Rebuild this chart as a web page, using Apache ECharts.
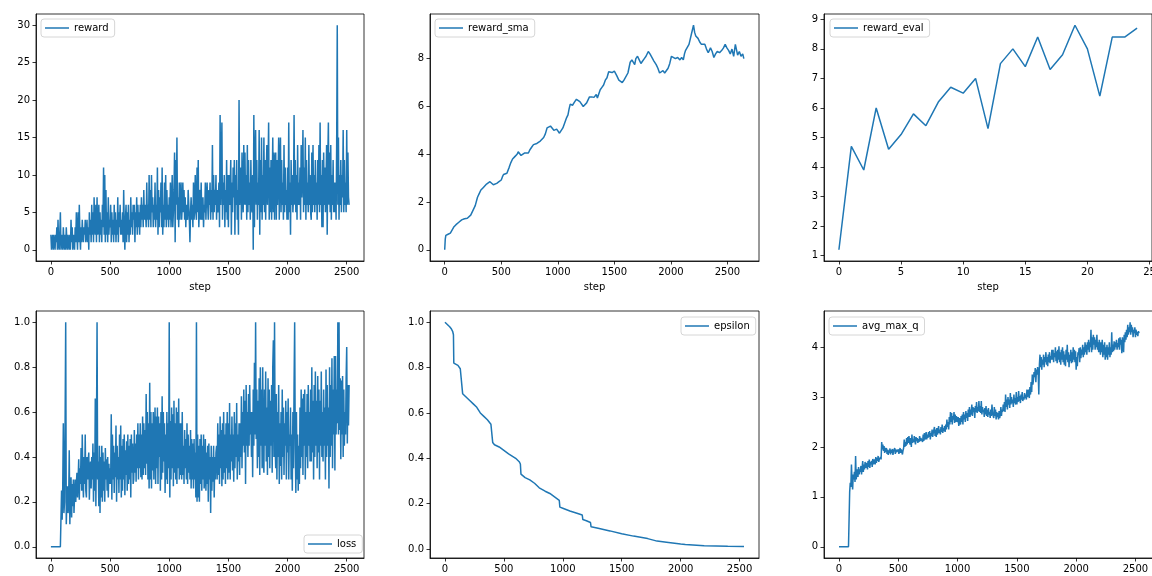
<!DOCTYPE html>
<html>
<head>
<meta charset="utf-8">
<script src="https://cdn.jsdelivr.net/npm/echarts@6/dist/echarts.min.js"></script>
<style>
  html, body { margin: 0; padding: 0; background: #fff; }
  #main { width: 1152px; height: 576px; }
</style>
</head>
<body>
<div id="main"></div>
<script>
// ---- data ----
const REWARD_STRIDE = 5;
const rewardValues = [
  2,0,1,2,0,2,1,0,2,1,3,0,4,1,0,2,5,0,2,1,
  0,3,1,0,2,0,3,1,0,2,1,0,2,0,4,1,3,0,2,1,
  0,3,1,5,2,0,5,1,6,2,0,3,1,4,2,1,3,2,4,1,
  2,4,1,3,0,5,2,4,1,6,2,5,1,7,3,2,6,1,7,2,
  3,6,1,5,2,4,1,6,3,11,2,10,1,8,2,5,1,7,2,4,
  3,6,1,5,2,4,1,6,2,5,1,4,2,7,1,5,3,6,2,4,
  2,5,1,8,3,0,4,6,1,5,2,6,1,4,2,7,3,5,2,6,
  4,6,1,5,3,7,2,6,3,5,2,6,3,7,4,6,3,8,4,6,
  5,3,9,4,6,3,10,4,8,3,10,5,7,3,6,4,9,3,6,4,
  11,2,8,3,7,5,9,3,11,2,6,3,9,4,10,3,8,4,6,3,
  7,4,9,3,6,10,3,5,8,13,1,12,6,15,4,7,3,9,4,8,
  9,4,6,9,5,8,4,7,3,6,5,4,8,6,4,1,5,7,4,6,
  3,9,4,6,10,5,4,11,5,12,3,6,8,4,9,4,5,7,3,6,
  5,9,4,7,9,6,4,8,6,9,4,8,5,14,4,10,5,8,6,10,
  4,8,5,7,9,3,18,6,10,17,4,9,6,10,3,8,5,12,4,10,
  3,10,6,8,12,2,9,5,11,7,12,2,10,6,12,4,8,2,20,6,
  6,11,4,13,7,5,14,6,13,6,10,4,14,5,12,6,9,4,12,6,
  5,10,0,18,3,12,16,6,12,4,9,6,16,2,12,5,15,4,10,6,
  15,5,12,4,10,14,6,11,17,4,11,5,12,4,8,15,5,13,4,12,
  13,4,12,6,10,15,4,12,15,5,12,6,9,4,14,5,11,6,8,4,
  11,4,17,5,9,2,12,6,10,5,7,18,6,12,5,10,4,14,6,9,
  6,11,4,14,7,10,16,5,11,6,15,4,12,6,9,5,14,6,10,5,
  4,13,5,14,6,10,5,12,6,9,4,12,6,14,5,17,6,10,3,12,
  3,13,6,11,5,9,14,2,12,17,6,13,5,14,4,10,6,12,5,9,
  5,9,4,14,30,6,15,4,10,6,12,5,10,7,16,5,12,6,9,5,
  16,6,13,7,6
];

const smaSteps = [
  0,5,10,30,50,65,80,100,125,150,
  175,200,215,230,250,270,290,305,320,340,
  355,370,385,400,415,430,445,460,480,500,
  510,520,535,550,570,585,600,620,640,650,
  660,675,690,705,720,740,755,770,785,800,
  815,830,845,860,875,890,905,920,935,950,
  965,980,990,1000,1015,1030,1045,1060,1075,1090,
  1100,1110,1130,1150,1165,1180,1195,1210,1225,1240,
  1255,1280,1300,1320,1340,1350,1360,1375,1390,1405,
  1420,1435,1450,1465,1480,1500,1520,1540,1555,1570,
  1585,1600,1620,1640,1655,1670,1680,1690,1705,1720,
  1735,1750,1765,1780,1800,1815,1830,1850,1870,1885,
  1900,1915,1930,1945,1960,1975,1990,2005,2020,2040,
  2060,2070,2080,2095,2110,2120,2130,2145,2160,2170,
  2180,2190,2200,2210,2220,2240,2255,2270,2285,2300,
  2315,2330,2340,2350,2365,2380,2395,2410,2430,2450,
  2465,2480,2495,2510,2525,2540,2555,2570,2580,2590,
  2605,2620,2635,2645
];
const smaValues = [
  0,0.45,0.6,0.65,0.7,0.68,0.95,1.05,1.15,1.25,
  1.3,1.32,1.35,1.45,1.65,1.85,2.2,2.35,2.5,2.6,
  2.68,2.75,2.8,2.85,2.78,2.72,2.8,2.78,2.85,2.92,
  3.05,3.15,3.1,3.2,3.45,3.65,3.8,3.9,4.0,4.1,
  4.05,3.95,3.92,4.05,4.1,4.05,4.2,4.3,4.4,4.35,
  4.45,4.5,4.55,4.6,4.7,4.85,5.1,5.15,5.18,5.12,
  5.0,4.92,5.05,5.0,4.88,4.85,5.1,5.3,5.5,5.65,
  5.9,6.1,6.05,6.2,6.3,6.25,6.2,6.25,6.0,5.92,
  6.15,6.4,6.4,6.38,6.5,6.35,6.3,6.7,6.8,6.9,
  7.1,7.2,7.45,7.5,7.42,7.48,7.3,7.1,7.05,7.0,
  7.1,7.08,7.4,7.85,7.95,7.9,7.75,8.0,8.1,7.95,
  7.8,7.9,8.0,8.1,8.3,8.2,8.15,7.9,7.75,7.6,
  7.4,7.35,7.5,7.4,7.42,7.6,7.8,8.1,8.15,8.0,
  8.05,8.1,7.95,8.05,7.95,8.2,8.35,8.3,8.6,8.8,
  9.0,9.2,9.4,9.1,8.95,8.85,8.7,8.6,8.65,8.6,
  8.4,8.25,8.35,8.45,8.3,8.05,8.2,8.3,8.25,8.35,
  8.45,8.6,8.45,8.35,8.2,8.4,8.1,8.6,8.65,8.15,
  8.3,8.1,8.2,8.0
];

const evalValues = [1.2,4.7,3.9,6.0,4.6,5.1,5.8,5.4,6.2,6.7,6.5,7.0,5.3,7.5,8.0,7.4,8.4,7.3,7.8,8.8,8.0,6.4,8.4,8.4,8.7];

const LOSS_STRIDE = 5;
const lossValues = [
  0,0,0,0,0,0,0,0,0,0,0,0,0,0,0,0,0,0,0.25,0.12,
  0.27,0.55,0.15,0.2,0.55,1.0,0.1,0.22,0.27,0.15,0.2,0.43,0.1,0.25,0.31,0.13,0.28,0.18,0.3,0.15,
  0.15,0.3,0.2,0.28,0.33,0.22,0.3,0.39,0.21,0.35,0.28,0.44,0.25,0.5,0.3,0.22,0.4,0.28,0.5,0.25,
  0.22,0.4,0.3,0.38,0.42,0.21,0.35,0.38,0.26,0.4,0.3,0.46,0.2,0.42,0.25,0.66,0.18,0.5,1.0,0.3,
  0.38,0.18,0.45,0.15,0.4,0.22,0.45,0.2,0.42,0.25,0.38,0.2,0.44,0.3,0.39,0.25,0.4,0.22,0.37,0.28,
  0.35,0.28,0.59,0.21,0.5,0.3,0.45,0.24,0.42,0.31,0.54,0.2,0.45,0.3,0.4,0.24,0.5,0.3,0.54,0.22,
  0.45,0.25,0.48,0.3,0.5,0.23,0.43,0.32,0.47,0.25,0.5,0.28,0.45,0.3,0.48,0.22,0.5,0.33,0.46,0.28,
  0.3,0.52,0.33,0.46,0.29,0.5,0.35,0.55,0.3,0.5,0.35,0.55,0.31,0.5,0.3,0.58,0.32,0.55,0.35,0.52,
  0.32,0.68,0.37,0.6,0.3,0.55,0.26,0.73,0.3,0.6,0.26,0.55,0.34,0.6,0.3,0.5,0.62,0.28,0.58,0.35,
  0.62,0.28,0.58,0.4,0.55,0.25,0.6,0.3,0.67,0.33,0.6,0.38,0.55,0.24,0.5,0.3,0.6,0.28,0.55,0.35,
  1.0,0.22,0.56,0.3,0.62,0.35,0.59,0.27,0.65,0.33,0.55,0.3,0.62,0.28,0.6,0.35,0.66,0.3,0.55,0.32,
  0.55,0.3,0.6,0.32,0.45,0.28,0.52,0.35,0.48,0.3,0.55,0.28,0.5,0.33,0.45,0.3,0.52,0.26,0.48,0.3,
  0.46,0.26,0.48,0.3,0.42,0.22,1.0,0.2,0.5,0.22,0.45,0.2,0.48,0.28,0.5,0.25,0.45,0.3,0.5,0.26,
  0.3,0.48,0.25,0.42,0.28,0.45,0.2,0.46,0.3,0.4,0.15,0.45,0.25,0.4,0.29,0.45,0.22,0.4,0.3,0.42,
  0.45,0.3,0.55,0.32,0.5,0.28,0.58,0.35,0.52,0.27,0.55,0.3,0.6,0.33,0.5,0.28,0.55,0.35,0.6,0.3,
  0.55,0.33,0.64,0.3,0.5,0.38,0.58,0.34,0.5,0.29,0.6,0.35,0.55,0.4,0.64,0.3,0.5,0.38,0.55,0.32,
  0.55,0.4,0.67,0.35,0.6,0.45,0.7,0.42,0.65,0.28,0.72,0.45,0.6,0.4,0.68,0.45,0.72,0.5,0.6,0.4,
  0.6,0.31,0.7,0.45,0.82,0.5,1.0,0.48,0.7,0.35,0.65,0.4,0.75,0.32,0.8,0.45,0.7,0.35,0.8,0.4,
  0.33,0.7,0.45,0.78,0.38,0.62,0.32,0.75,0.4,0.7,0.35,0.65,0.45,0.72,0.33,0.8,0.92,0.4,1.0,0.45,
  0.35,0.68,0.3,0.6,0.4,0.72,0.28,0.55,0.36,0.6,0.3,0.7,0.4,0.62,0.32,0.55,0.45,0.65,0.3,0.6,
  0.42,0.66,0.3,0.5,0.45,0.62,0.3,0.5,0.25,0.6,0.35,0.72,1.0,0.45,0.24,0.6,0.3,0.5,0.25,0.45,
  0.28,0.62,0.35,0.7,0.4,0.66,0.32,0.68,0.45,0.7,0.3,0.6,0.4,0.68,0.35,0.72,0.45,0.6,0.38,0.7,
  0.38,0.8,0.42,0.65,0.3,0.72,0.4,0.78,0.45,0.65,0.35,0.76,0.42,0.7,0.3,0.65,0.45,0.78,0.4,0.6,
  0.38,0.7,0.45,0.62,0.3,0.79,0.4,0.72,0.45,0.62,0.26,0.8,0.4,0.72,0.45,0.84,0.35,0.7,0.5,0.85,
  0.34,0.85,0.5,0.7,0.55,1.0,0.5,1.0,0.52,0.75,0.39,0.74,0.5,0.76,0.4,0.7,0.45,0.6,0.5,0.75,
  0.89,0.46,0.72,0.54,0.72
];

const epsSteps = [
  0,20,40,55,65,72,75,90,110,130,
  145,150,160,190,210,240,270,300,330,360,
  390,400,405,420,460,500,540,570,600,630,
  640,645,680,720,760,800,850,890,930,970,
  975,1000,1060,1120,1165,1170,1200,1235,1240,1300,
  1400,1500,1600,1720,1725,1800,1880,1885,2000,2040,
  2045,2200,2400,2538
];
const epsValues = [
  1.0,0.99,0.98,0.97,0.96,0.945,0.82,0.815,0.81,0.795,
  0.79,0.685,0.68,0.665,0.655,0.64,0.625,0.6,0.585,0.57,
  0.55,0.545,0.47,0.46,0.45,0.435,0.42,0.41,0.4,0.385,
  0.375,0.33,0.315,0.305,0.29,0.27,0.255,0.245,0.23,0.215,
  0.185,0.18,0.168,0.158,0.15,0.13,0.125,0.117,0.098,0.092,
  0.08,0.067,0.057,0.046,0.04,0.035,0.03,0.025,0.022,0.02,
  0.017,0.015,0.012,0.011
];

const Q_STRIDE = 5;
const qValues = [
  0,0,0,0,0,0,0,0,0,0,0,0,0,0,0,0,0,0,1.1,1.28,
  1.2,1.65,1.3,1.15,1.45,1.35,1.5,1.3,1.82,1.35,1.45,1.55,1.4,1.6,1.45,1.55,1.5,1.62,1.45,1.58,
  1.72,1.5,1.65,1.55,1.7,1.58,1.62,1.68,1.55,1.72,1.6,1.75,1.58,1.7,1.65,1.72,1.6,1.76,1.65,1.7,
  1.75,1.65,1.8,1.68,1.78,1.72,1.82,1.7,1.75,1.78,1.8,1.75,2.1,1.95,2.05,1.92,2.02,1.88,1.98,1.9,
  1.98,1.86,1.95,1.84,1.93,1.88,1.97,1.85,1.94,1.88,1.96,1.84,1.92,1.88,1.98,1.86,1.95,1.9,1.94,1.87,
  1.95,1.86,1.92,1.98,1.88,1.95,1.9,1.85,1.93,1.98,2.15,2.0,2.1,2.02,2.18,2.05,2.2,2.08,2.22,2.1,
  2.05,2.18,2.0,2.25,2.08,2.15,2.1,2.22,2.12,2.05,2.2,2.12,2.18,2.08,2.16,2.1,2.22,2.12,2.18,2.15,
  2.2,2.1,2.25,2.12,2.28,2.15,2.2,2.3,2.15,2.25,2.18,2.3,2.2,2.32,2.15,2.28,2.22,2.35,2.2,2.28,
  2.25,2.4,2.22,2.35,2.2,2.38,2.25,2.32,2.42,2.28,2.35,2.25,2.4,2.3,2.45,2.28,2.38,2.32,2.42,2.3,
  2.45,2.35,2.55,2.4,2.5,2.35,2.6,2.45,2.7,2.5,2.68,2.45,2.62,2.55,2.7,2.48,2.65,2.5,2.62,2.55,
  2.5,2.6,2.42,2.58,2.55,2.45,2.62,2.5,2.65,2.45,2.7,2.55,2.65,2.5,2.72,2.58,2.68,2.52,2.75,2.6,
  2.8,2.6,2.75,2.65,2.85,2.62,2.8,2.7,2.78,2.58,2.82,2.7,2.9,2.68,2.8,2.72,2.92,2.7,2.82,2.68,
  2.92,2.65,2.8,2.7,2.75,2.6,2.78,2.65,2.82,2.62,2.75,2.6,2.78,2.65,2.7,2.58,2.75,2.62,2.85,2.68,
  2.72,2.58,2.8,2.62,2.75,2.55,2.7,2.6,2.68,2.55,2.72,2.58,2.65,2.8,2.62,2.75,2.7,2.85,2.72,2.9,
  2.7,3.05,2.8,2.95,2.75,3.0,2.85,2.95,2.78,3.08,2.85,3.0,2.88,2.95,2.8,3.05,2.88,2.98,2.85,3.1,
  2.85,3.0,2.9,3.12,2.92,3.02,2.88,3.05,2.95,3.1,2.92,3.0,2.95,3.08,2.98,3.05,2.95,3.15,3.0,3.1,
  3.15,2.98,3.2,3.05,3.3,3.1,3.45,3.25,3.35,3.5,3.4,3.58,3.3,3.55,3.45,3.6,3.5,3.05,3.65,3.85,
  3.6,3.8,3.55,3.75,3.65,3.85,3.6,3.8,3.7,3.9,3.65,3.8,3.62,3.85,3.7,3.9,3.68,3.82,3.75,3.95,
  3.75,3.95,3.7,3.88,3.8,4.0,3.72,3.92,3.68,3.95,3.75,4.02,3.7,3.9,3.65,3.95,3.75,4.0,3.7,3.92,
  3.65,3.85,3.62,3.95,3.75,4.05,3.7,3.9,3.6,3.85,3.72,3.95,3.68,3.9,3.7,4.0,3.75,3.95,3.7,3.92,
  3.55,3.8,3.62,3.9,3.85,3.98,3.7,4.0,3.78,3.95,3.85,4.05,3.8,4.0,3.85,4.1,3.9,4.05,3.85,4.1,
  3.95,4.15,3.9,4.1,4.0,4.35,3.9,4.2,3.95,4.25,4.05,4.2,3.95,4.15,4.0,4.25,3.95,4.1,3.9,4.15,
  4.0,3.85,4.1,3.9,4.15,3.8,4.05,3.85,4.1,3.75,4.0,3.8,4.05,3.75,4.0,3.85,4.1,3.8,4.0,3.85,
  4.3,3.9,4.05,3.92,4.12,3.95,4.1,4.0,4.15,3.95,4.08,4.0,4.18,3.95,4.2,4.05,4.15,3.88,4.2,4.05,
  3.9,4.25,4.1,4.3,4.15,4.35,4.2,4.45,4.25,4.4,4.3,4.5,4.25,4.45,4.3,4.4,4.2,4.35,4.28,4.4,
  4.2,4.35,4.25,4.3,4.22,4.32,4.28
];

// tick labels
const stepTicks = [0, 500, 1000, 1500, 2000, 2500];
const evalTicks = [0, 5, 10, 15, 20, 25];
const rewardTicks = [0, 5, 10, 15, 20, 25, 30];
const smaTicks = [0, 2, 4, 6, 8];
const evalYTicks = [1, 2, 3, 4, 5, 6, 7, 8, 9];
const unitTicks = [0, 0.2, 0.4, 0.6, 0.8, 1.0];
const qTicks = [0, 1, 2, 3, 4];

// ---- chart ----
const FONT = 'DejaVu Sans';
const BLUE = '#1f77b4';

const strided = (vals, stride) => vals.map((v, i) => [i * stride, v]);
const paired = (xs, ys) => ys.map((v, i) => [xs[i], v]);

const labelWith = (ticks, fmt) => ({
  customValues: ticks,
  margin: 6,
  fontSize: 10,
  fontFamily: FONT,
  color: '#000',
  formatter: fmt || ((v) => String(v)),
});

const makeAxis = (gridIndex, min, max, ticks, extra) => Object.assign({
  type: 'value',
  gridIndex,
  min,
  max,
  splitLine: { show: false },
  axisLine: { show: true, onZero: false, lineStyle: { color: '#000', width: 0.8 } },
  axisTick: { show: true, length: 3.5, lineStyle: { color: '#000', width: 0.8 }, customValues: ticks },
  axisLabel: labelWith(ticks),
}, extra || {});

const stepName = {
  name: 'step',
  nameLocation: 'middle',
  nameGap: 21,
  nameTextStyle: { fontSize: 10, fontFamily: FONT, color: '#000' },
};

const oneDecimal = (v) => v.toFixed(1);

const makeLegend = (name, pos) => Object.assign({
  data: [name],
  icon: 'rect',
  itemWidth: 24,
  itemHeight: 1.5,
  padding: [4, 6, 4, 4],
  borderColor: '#cccccc',
  borderWidth: 0.8,
  borderRadius: 3,
  backgroundColor: 'rgba(255,255,255,0.8)',
  selectedMode: false,
  textStyle: { fontSize: 10, fontFamily: FONT, color: '#000' },
}, pos);

const makeLine = (name, idx, data) => ({
  name,
  type: 'line',
  xAxisIndex: idx,
  yAxisIndex: idx,
  data,
  showSymbol: false,
  symbol: 'none',
  lineStyle: { color: BLUE, width: 1.5 },
  itemStyle: { color: BLUE },
  animation: false,
});

const gridBox = (left, top, width) => ({
  left, top, width, height: 247,
  show: true, borderColor: '#000', borderWidth: 0.8,
  containLabel: false,
  outerBoundsMode: 'none',
});

const chart = echarts.init(document.getElementById('main'));

const xAxes = [
  makeAxis(0, -126, 2646, stepTicks, stepName),
  makeAxis(1, -130, 2779, stepTicks, stepName),
  makeAxis(2, -1.2, 25.2, evalTicks, stepName),
  makeAxis(3, -126, 2646, stepTicks),
  makeAxis(4, -127, 2665, stepTicks),
  makeAxis(5, -126.5, 2656.5, stepTicks),
];
const yAxes = [
  makeAxis(0, -1.5, 31.5, rewardTicks),
  makeAxis(1, -0.47, 9.87, smaTicks),
  makeAxis(2, 0.82, 9.18, evalYTicks),
  makeAxis(3, -0.05, 1.05, unitTicks, { axisLabel: labelWith(unitTicks, oneDecimal) }),
  makeAxis(4, -0.0395, 1.0495, unitTicks, { axisLabel: labelWith(unitTicks, oneDecimal) }),
  makeAxis(5, -0.225, 4.725, qTicks),
];

const option = {
  backgroundColor: '#fff',
  animation: false,
  textStyle: { fontFamily: FONT },
  grid: [
    gridBox(36, 14, 328),
    gridBox(430, 14, 329),
    gridBox(824, 14, 328),
    gridBox(36, 311, 328),
    gridBox(430, 311, 329),
    gridBox(824, 311, 330),
  ],
  xAxis: xAxes,
  yAxis: yAxes,
  legend: [
    makeLegend('reward', { left: 41, top: 19 }),
    makeLegend('reward_sma', { left: 435, top: 19 }),
    makeLegend('reward_eval', { left: 830, top: 19 }),
    makeLegend('loss', { left: 304, top: 535 }),
    makeLegend('epsilon', { left: 681, top: 317 }),
    makeLegend('avg_max_q', { left: 829, top: 317 }),
  ],
  series: [
    makeLine('reward', 0, strided(rewardValues, REWARD_STRIDE)),
    makeLine('reward_sma', 1, paired(smaSteps, smaValues)),
    makeLine('reward_eval', 2, strided(evalValues, 1)),
    makeLine('loss', 3, strided(lossValues, LOSS_STRIDE)),
    makeLine('epsilon', 4, paired(epsSteps, epsValues)),
    makeLine('avg_max_q', 5, strided(qValues, Q_STRIDE)),
  ],
};

chart.setOption(option);
</script>
</body>
</html>
